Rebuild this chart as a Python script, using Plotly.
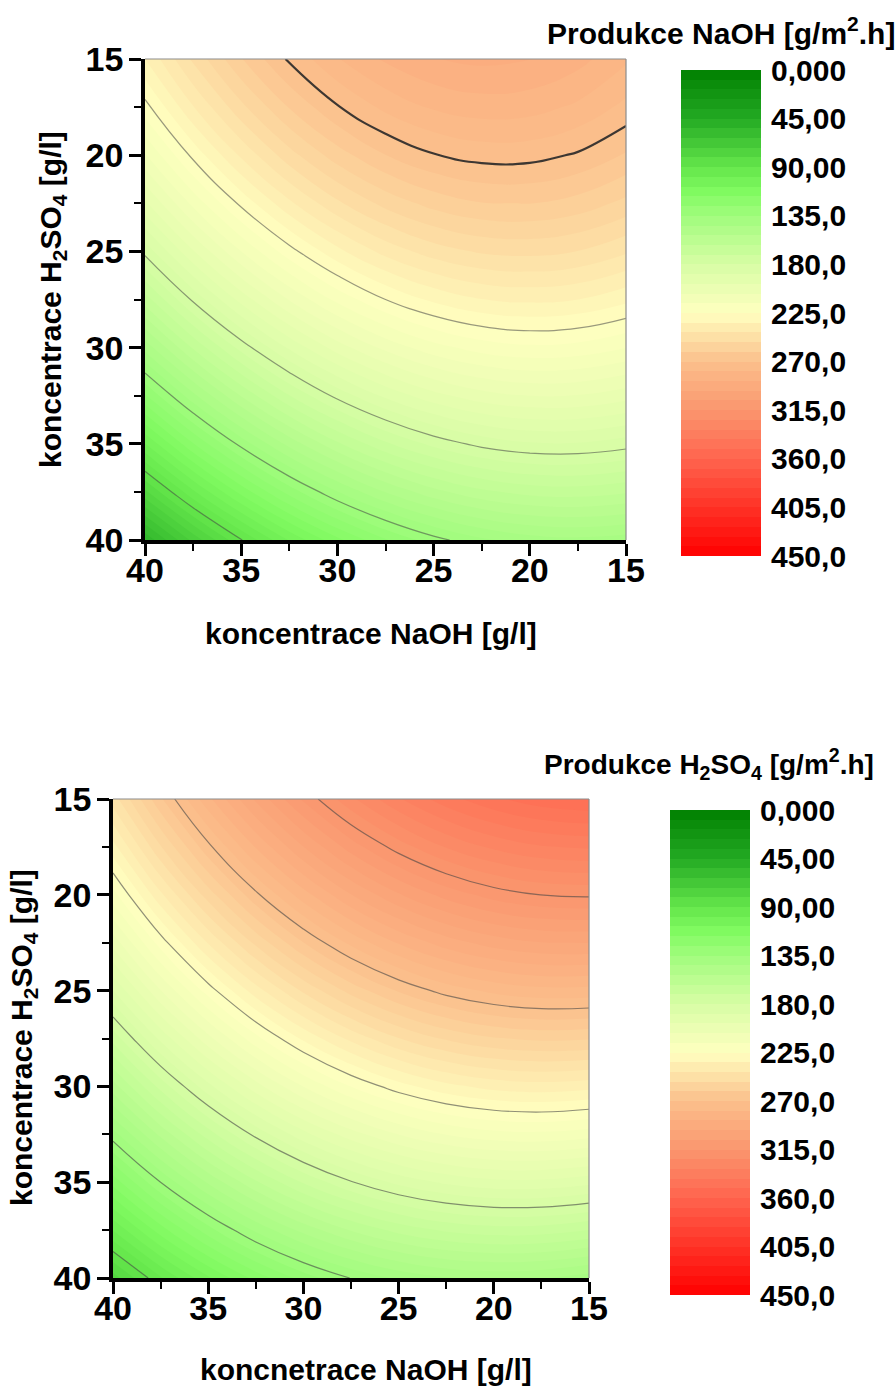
import numpy as np
import plotly.graph_objects as go

# Concentration grid (g/l)
naoh = [15, 17.5, 20, 22.5, 25, 27.5, 30, 32.5, 35, 37.5, 40]
h2so4 = [15, 17.5, 20, 22.5, 25, 27.5, 30, 32.5, 35, 37.5, 40]

# NaOH production [g/m2.h]; rows = H2SO4, columns = NaOH (ascending)
prod_naoh = [
    [279.8, 285.1, 288.2, 289.1, 287.8, 284.3, 278.7, 270.8, 260.7, 248.5, 234.0],
    [273.2, 278.1, 280.8, 281.3, 279.6, 275.7, 269.6, 261.3, 250.8, 238.2, 223.3],
    [265.0, 269.4, 271.7, 271.8, 269.7, 265.4, 258.9, 250.2, 239.3, 226.3, 211.0],
    [255.2, 259.2, 261.1, 260.8, 258.2, 253.5, 246.6, 237.5, 226.2, 212.8, 197.1],
    [243.7, 247.4, 248.8, 248.1, 245.2, 240.1, 232.7, 223.2, 211.5, 197.6, 181.5],
    [230.7, 234.0, 235.0, 233.9, 230.5, 225.0, 217.3, 207.3, 195.2, 180.9, 164.4],
    [216.1, 218.9, 219.6, 218.0, 214.3, 208.3, 200.2, 189.8, 177.3, 162.6, 145.7],
    [199.9, 202.3, 202.5, 200.6, 196.4, 190.0, 181.5, 170.8, 157.8, 142.7, 125.4],
    [182.1, 184.1, 183.9, 181.5, 176.9, 170.2, 161.2, 150.1, 136.7, 121.2, 103.4],
    [162.6, 164.2, 163.6, 160.9, 155.9, 148.7, 139.3, 127.8, 114.0, 98.1, 79.9],
    [141.6, 142.8, 141.8, 138.6, 133.2, 125.6, 115.8, 103.9, 89.7, 73.4, 54.8],
]

# H2SO4 production [g/m2.h]; rows = H2SO4, columns = NaOH (ascending)
prod_h2so4 = [
    [350.7, 349.2, 345.6, 340.1, 332.5, 323.0, 311.4, 297.9, 282.3, 264.8, 245.2],
    [333.7, 332.6, 329.4, 324.3, 317.2, 308.1, 296.9, 283.8, 268.7, 251.6, 232.4],
    [315.8, 315.1, 312.4, 307.7, 301.0, 292.3, 281.6, 268.9, 254.2, 237.5, 218.8],
    [297.1, 296.8, 294.5, 290.2, 283.9, 275.7, 265.4, 253.1, 238.8, 222.6, 204.3],
    [277.4, 277.6, 275.7, 271.9, 266.0, 258.2, 248.3, 236.5, 222.6, 206.8, 188.9],
    [257.0, 257.5, 256.1, 252.7, 247.3, 239.8, 230.4, 219.0, 205.5, 190.1, 172.7],
    [235.6, 236.6, 235.6, 232.6, 227.6, 220.6, 211.6, 200.6, 187.6, 172.6, 155.6],
    [213.4, 214.9, 214.3, 211.7, 207.1, 200.5, 192.0, 181.4, 168.8, 154.2, 137.7],
    [190.4, 192.2, 192.1, 189.9, 185.8, 179.6, 171.5, 161.3, 149.2, 135.0, 118.8],
    [166.5, 168.7, 169.0, 167.3, 163.6, 157.8, 150.1, 140.4, 128.6, 114.9, 99.2],
    [141.7, 144.4, 145.1, 143.8, 140.5, 135.2, 127.9, 118.6, 107.3, 94.0, 78.7],
]

axis_ticks = [15, 20, 25, 30, 35, 40]
scale_ticks = [0, 45, 90, 135, 180, 225, 270, 315, 360, 405, 450]
scale_labels = ["0,000", "45,00", "90,00", "135,0", "180,0", "225,0",
                "270,0", "315,0", "360,0", "405,0", "450,0"]

Z_MIN, Z_MAX = 0, 450
FILL_STEP = 4.5
BAR_STEP = 9

green_red = [
    [0.00, "rgb(0,128,0)"],
    [0.10, "rgb(35,170,35)"],
    [0.20, "rgb(100,230,75)"],
    [0.25, "rgb(128,250,96)"],
    [0.30, "rgb(160,252,125)"],
    [0.40, "rgb(215,253,165)"],
    [0.50, "rgb(255,255,192)"],
    [0.60, "rgb(251,192,140)"],
    [0.70, "rgb(250,150,110)"],
    [0.80, "rgb(255,100,78)"],
    [0.90, "rgb(255,50,38)"],
    [1.00, "rgb(255,0,0)"],
]

FONT = "Liberation Sans, Arial, sans-serif"
W, H = 895, 1389


def px_x(p):
    return p / W


def px_y(p):
    return 1 - p / H


fig = go.Figure()


def add_panel(z, xa, ya, line_sets):
    fig.add_trace(go.Contour(
        x=naoh, y=h2so4, z=z, xaxis=xa, yaxis=ya,
        colorscale=green_red, zmin=Z_MIN, zmax=Z_MAX, zauto=False,
        autocontour=False,
        contours=dict(start=Z_MIN, end=Z_MAX, size=FILL_STEP, coloring="fill",
                      showlines=False),
        line=dict(width=0, smoothing=1.3),
        showscale=False, hoverinfo="skip",
    ))
    for start, end, color, width in line_sets:
        fig.add_trace(go.Contour(
            x=naoh, y=h2so4, z=z, xaxis=xa, yaxis=ya,
            autocontour=False,
            contours=dict(start=start, end=end, size=45, coloring="none"),
            line=dict(color=color, width=width, smoothing=1.3),
            showscale=False, hoverinfo="skip",
        ))


add_panel(prod_naoh, "x", "y", [
    (90, 225, "rgba(70,70,70,0.55)", 1.2),
    (270, 270, "rgba(40,40,40,0.9)", 2.2),
])
add_panel(prod_h2so4, "x2", "y2", [
    (90, 315, "rgba(70,70,70,0.6)", 1.2),
])

# Colour scale bars drawn as one-column heatmaps
bar_edges = np.arange(Z_MIN, Z_MAX + BAR_STEP, BAR_STEP)
bar_mid = ((bar_edges[:-1] + bar_edges[1:]) / 2).reshape(-1, 1)
for xa, ya in (("x3", "y3"), ("x4", "y4")):
    fig.add_trace(go.Heatmap(
        x=[0, 1], y=bar_edges, z=bar_mid, xaxis=xa, yaxis=ya,
        colorscale=green_red, zmin=Z_MIN, zmax=Z_MAX, showscale=False,
        hoverinfo="skip",
    ))

tick_font = dict(family=FONT, size=34, color="black", weight="bold")


def main_axis(domain, anchor, standoff):
    return dict(
        domain=domain, anchor=anchor, range=[40, 15], automargin=False,
        tickvals=axis_ticks, ticks="outside", ticklen=12, tickwidth=3,
        tickcolor="black", tickfont=tick_font, ticklabelstandoff=standoff,
        minor=dict(dtick=2.5, ticks="outside", ticklen=7, tickwidth=2,
                   tickcolor="black", showgrid=False),
        showline=True, linewidth=3.5, linecolor="black", mirror=False,
        showgrid=True, gridcolor="rgba(190,190,190,0.45)", griddash="dot",
        gridwidth=1, zeroline=False, layer="above traces",
    )


def bar_axes(xdom, ydom, xname):
    xa = dict(domain=xdom, range=[0, 1], visible=False, fixedrange=True,
              automargin=False)
    ya = dict(domain=ydom, range=[Z_MAX, Z_MIN], anchor=xname, side="right",
              tickvals=scale_ticks, ticktext=scale_labels, ticks="outside",
              ticklen=3, tickcolor="rgba(0,0,0,0)", automargin=False,
              tickfont=dict(family=FONT, size=30, color="black", weight="bold"),
              showgrid=False, zeroline=False, showline=False)
    return xa, ya


x3, y3 = bar_axes([px_x(681), px_x(761)], [px_y(556), px_y(70)], "x3")
x4, y4 = bar_axes([px_x(670), px_x(750)], [px_y(1295), px_y(810)], "x4")

fig.update_layout(
    width=W, height=H,
    margin=dict(l=0, r=0, t=0, b=0, pad=0, autoexpand=False),
    paper_bgcolor="white", plot_bgcolor="white", showlegend=False,
    xaxis=main_axis([px_x(145), px_x(626)], "y", -15),
    yaxis=main_axis([px_y(540), px_y(59)], "x", -1),
    xaxis2=main_axis([px_x(113), px_x(589)], "y2", -15),
    yaxis2=main_axis([px_y(1278), px_y(799)], "x2", -1),
    xaxis3=x3, yaxis3=y3, xaxis4=x4, yaxis4=y4,
)

# Thin grey frame on the top and right edges of each panel
for xa, ya in (("x", "y"), ("x2", "y2")):
    for x0, y0, x1, y1 in ((0, 1, 1, 1), (1, 0, 1, 1)):
        fig.add_shape(type="line", xref=f"{xa} domain", yref=f"{ya} domain",
                      x0=x0, y0=y0, x1=x1, y1=y1,
                      line=dict(color="rgb(140,140,140)", width=1.2))

title_font = dict(family=FONT, size=30, color="black", weight="bold")
cb_font = dict(family=FONT, size=30, color="black", weight="bold")

annotations = [
    dict(text="koncentrace NaOH [g/l]", x=px_x(371), y=px_y(633), font=title_font),
    dict(text="koncentrace H<sub>2</sub>SO<sub>4</sub> [g/l]", x=px_x(53), y=px_y(300),
         textangle=-90, font=title_font),
    dict(text="Produkce NaOH [g/m<sup>2</sup>.h]", x=px_x(721), y=px_y(31), font=cb_font),
    dict(text="koncnetrace NaOH [g/l]", x=px_x(366), y=px_y(1369), font=title_font),
    dict(text="koncentrace H<sub>2</sub>SO<sub>4</sub> [g/l]", x=px_x(23), y=px_y(1038),
         textangle=-90, font=title_font),
    dict(text="Produkce H<sub>2</sub>SO<sub>4</sub> [g/m<sup>2</sup>.h]", x=px_x(709),
         y=px_y(764), font=dict(family=FONT, size=28, color="black", weight="bold")),
]
for a in annotations:
    fig.add_annotation(xref="paper", yref="paper", showarrow=False,
                       xanchor="center", yanchor="middle", **a)

fig.write_html("out.html")
